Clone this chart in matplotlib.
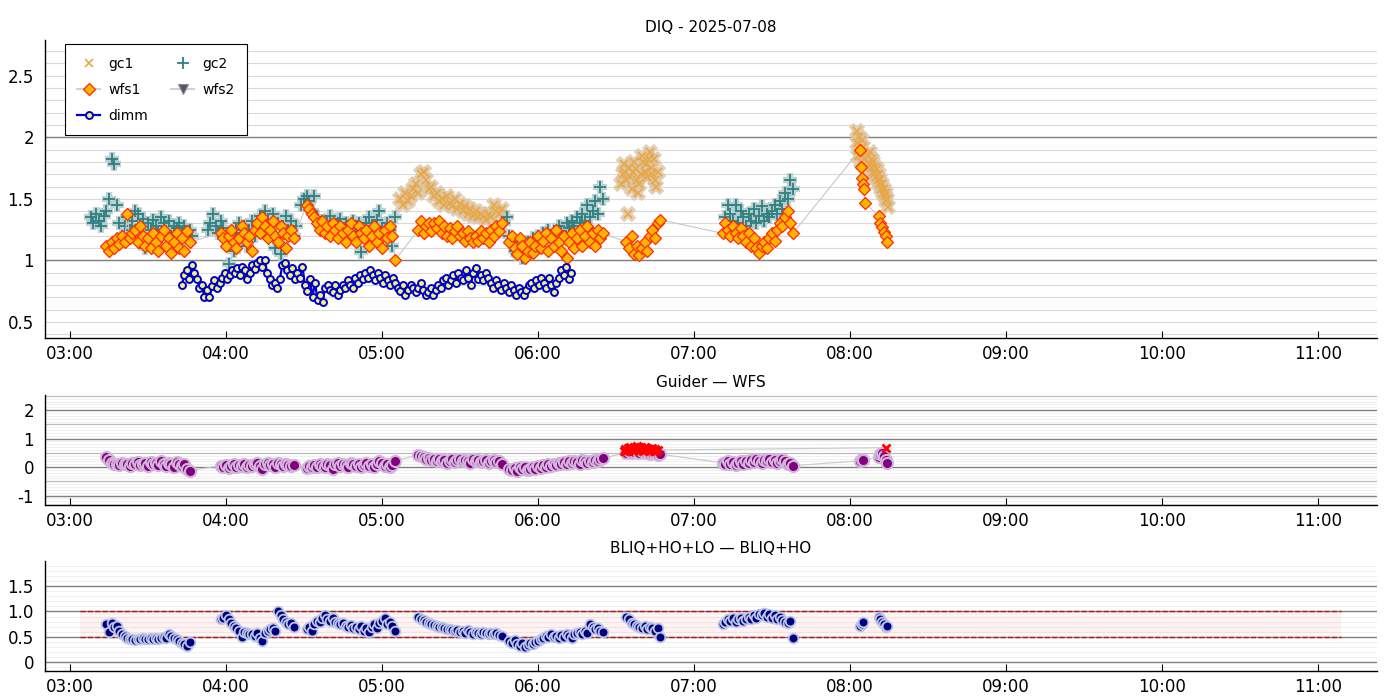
import numpy as np
import pandas as pd
import matplotlib
matplotlib.use('Agg')
import matplotlib.pyplot as plt
import matplotlib.dates as mdates
from matplotlib.ticker import FixedLocator, FixedFormatter

DAY = '2025-07-08 '

# ---- top panel: DIQ ----
gc1_a = [1.50, 1.45, 1.55, 1.48, 1.52, 1.58, 1.62, 1.55, 1.70, 1.72, 1.65, 1.58, 1.60, 1.52,
         1.55, 1.48, 1.50, 1.45, 1.52, 1.47, 1.44, 1.50, 1.42, 1.46, 1.40, 1.44, 1.38, 1.42,
         1.36, 1.40, 1.35, 1.38, 1.36, 1.33, 1.38, 1.35, 1.45, 1.40, 1.38, 1.42]
gc1_b = [1.62, 1.70, 1.78, 1.72, 1.65, 1.38, 1.75, 1.68, 1.58, 1.72, 1.80, 1.74, 1.65, 1.55,
         1.62, 1.70, 1.85, 1.80, 1.72, 1.78, 1.68, 1.82, 1.88, 1.75, 1.70, 1.82, 1.65, 1.60, 1.72]
gc1_c = [1.95, 2.05, 1.85, 2.00, 1.90, 1.80, 1.98, 1.85, 1.92, 1.78]
gc1_d = [1.85, 1.78, 1.88, 1.75, 1.82, 1.72, 1.80, 1.70, 1.76, 1.68, 1.74, 1.65, 1.70, 1.62,
         1.66, 1.58, 1.62, 1.55, 1.58, 1.52, 1.55, 1.48, 1.50, 1.43]

gc2_a = [1.35, 1.30, 1.38, 1.32, 1.28, 1.36, 1.40, 1.50, 1.82, 1.78, 1.45, 1.30, 1.20, 1.28,
         1.35, 1.25, 1.32, 1.40, 1.38, 1.28, 1.34, 1.10, 1.30, 1.25, 1.33, 1.28, 1.22, 1.35,
         1.30, 1.24, 1.32, 1.20, 1.28, 1.26, 1.30, 1.22, 1.28, 1.18, 1.25, 1.20]
gc2_b = [1.25, 1.30, 1.38, 1.28, 1.22, 1.32, 1.26, 1.20, 0.97, 1.15, 1.08, 1.25, 1.30, 1.22,
         1.28, 1.12, 1.25, 1.32, 1.20, 1.30, 1.36, 1.28, 1.40, 1.32, 1.25, 1.38, 1.10, 1.30,
         1.05, 1.28, 1.36, 1.25, 1.32, 1.20, 1.28]
gc2_c = [1.45, 1.50, 1.52, 1.48, 1.40, 1.52, 1.35, 1.28, 1.32, 1.25, 1.30, 1.36, 1.28, 1.22,
         1.30, 1.34, 1.25, 1.30, 1.28, 1.20, 1.32, 1.26, 1.30, 1.07, 1.24, 1.30, 1.35, 1.28,
         1.22, 1.33, 1.40, 1.26, 1.20, 1.30, 1.25, 1.12, 1.35]
gc2_d = [1.30, 1.35, 1.20, 1.15, 1.08, 1.05, 1.12, 1.02, 1.10, 1.15, 1.08, 1.18, 1.12, 1.20,
         1.15, 1.22, 1.18, 1.25, 1.20, 1.15, 1.22, 1.28, 1.24, 1.20, 1.30, 1.26, 1.32, 1.28,
         1.35, 1.30, 1.38, 1.32, 1.45, 1.35, 1.40, 1.48, 1.38, 1.60, 1.50]
gc2_e = [1.35, 1.45, 1.38, 1.32, 1.45, 1.30, 1.40, 1.35, 1.28, 1.38, 1.32, 1.42, 1.30, 1.36,
         1.44, 1.32, 1.38, 1.35, 1.40, 1.45, 1.38, 1.48, 1.42, 1.55, 1.50, 1.65, 1.58]

wfs1_a = [1.12, 1.08, 1.15, 1.10, 1.18, 1.13, 1.20, 1.15, 1.38, 1.18, 1.22, 1.25, 1.15, 1.28,
          1.20, 1.12, 1.18, 1.10, 1.22, 1.15, 1.08, 1.20, 1.25, 1.12, 1.18, 1.06, 1.15, 1.22,
          1.10, 1.18, 1.08, 1.24, 1.15]
wfs1_b = [1.22, 1.18, 1.12, 1.20, 1.25, 1.15, 1.10, 1.18, 1.28, 1.22, 1.15, 1.20, 1.08, 1.25,
          1.30, 1.22, 1.35, 1.28, 1.18, 1.25, 1.32, 1.20, 1.15, 1.28, 1.22, 1.10, 1.20, 1.25, 1.18]
wfs1_c = [1.45, 1.42, 1.38, 1.35, 1.30, 1.25, 1.32, 1.22, 1.28, 1.20, 1.30, 1.25, 1.18, 1.28,
          1.22, 1.15, 1.25, 1.30, 1.20, 1.15, 1.28, 1.22, 1.18, 1.25, 1.12, 1.20, 1.28, 1.15,
          1.22, 1.10, 1.25, 1.18, 1.28, 1.20, 1.00]
wfs1_d = [1.25, 1.32, 1.22, 1.28, 1.30, 1.24, 1.30, 1.26, 1.32, 1.22, 1.28, 1.20, 1.26, 1.18,
          1.24, 1.28, 1.20, 1.22, 1.16, 1.24, 1.18, 1.15, 1.20, 1.16, 1.24, 1.18, 1.22, 1.15,
          1.25, 1.20, 1.28, 1.24, 1.30]
wfs1_e = [1.15, 1.20, 1.10, 1.05, 1.18, 1.12, 1.02, 1.08, 1.15, 1.06, 1.12, 1.20, 1.10, 1.16,
          1.22, 1.08, 1.18, 1.12, 1.25, 1.15, 1.08, 1.20, 1.02, 1.15, 1.22, 1.10, 1.18, 1.25,
          1.12, 1.20, 1.28, 1.15, 1.22, 1.12, 1.25, 1.18, 1.22]
wfs1_f = [1.15, 1.10, 1.20, 1.05, 1.12, 1.04, 1.10, 1.15, 1.08, 1.20, 1.25, 1.18, 1.30, 1.33]
wfs1_g = [1.22, 1.30, 1.25, 1.20, 1.28, 1.22, 1.18, 1.26, 1.20, 1.15, 1.22, 1.12, 1.18, 1.10,
          1.06, 1.12, 1.15, 1.10, 1.18, 1.22, 1.16, 1.25, 1.30, 1.28, 1.35, 1.40, 1.30, 1.22]
wfs1_h = [1.90, 1.76, 1.67, 1.62, 1.58, 1.47]
wfs1_i = [1.36, 1.30, 1.27, 1.23, 1.20, 1.15]

dimm = [0.80, 0.88, 0.92, 0.85, 0.96, 0.90, 0.85, 0.78, 0.80, 0.70, 0.76, 0.70, 0.79, 0.84,
        0.78, 0.82, 0.86, 0.90, 0.85, 0.88, 0.92, 0.90, 0.94, 0.88, 0.95, 0.92, 0.85, 0.90,
        0.96, 0.93, 0.98, 1.00, 0.95, 1.00, 0.90, 0.85, 0.80, 0.82, 0.78, 0.85, 0.96, 0.98,
        0.92, 0.88, 0.94, 0.85, 0.90, 0.86, 0.95, 0.80, 0.75, 0.85, 0.70, 0.82, 0.68, 0.72,
        0.66, 0.78, 0.80, 0.76, 0.74, 0.80, 0.72, 0.76, 0.80, 0.78, 0.84, 0.80, 0.78, 0.86,
        0.82, 0.88, 0.85, 0.90, 0.86, 0.92, 0.88, 0.84, 0.90, 0.86, 0.82, 0.88, 0.84, 0.80,
        0.86, 0.82, 0.78, 0.75, 0.80, 0.72, 0.76, 0.80, 0.78, 0.74, 0.78, 0.82, 0.76, 0.72,
        0.74, 0.78, 0.72, 0.76, 0.80, 0.78, 0.84, 0.86, 0.80, 0.84, 0.88, 0.82, 0.90, 0.86,
        0.84, 0.92, 0.86, 0.80, 0.90, 0.94, 0.85, 0.88, 0.84, 0.90, 0.86, 0.82, 0.78, 0.84,
        0.80, 0.76, 0.82, 0.78, 0.74, 0.80, 0.76, 0.72, 0.78, 0.74, 0.72, 0.76, 0.80, 0.82,
        0.78, 0.84, 0.80, 0.86, 0.82, 0.78, 0.86, 0.80, 0.74, 0.82, 0.86, 0.92, 0.88, 0.95,
        0.85, 0.90]

# ---- middle panel: Guider - WFS ----
gw_a = [0.35, 0.25, 0.15, 0.10, 0.12, 0.08, 0.15, 0.10, 0.12, 0.05, 0.15, 0.10, 0.18, 0.08,
        0.12, 0.15, 0.05, 0.18, 0.10, 0.15, 0.08, 0.20, 0.12, 0.05, 0.15, 0.10, 0.02, 0.18,
        0.12, 0.05, 0.10, -0.05, -0.12]
gw_b = [0.05, 0.00, 0.08, -0.02, 0.05, 0.10, 0.02, 0.08, 0.05, 0.12, 0.00, 0.08, 0.05, 0.12,
        0.15, 0.05, -0.05, 0.10, 0.15, 0.08, 0.12, 0.02, 0.15, 0.10, 0.05, 0.12, 0.08, 0.05, 0.06]
gw_c = [-0.02, 0.05, 0.00, 0.08, 0.02, 0.10, 0.05, 0.00, 0.12, 0.08, -0.05, 0.10, 0.15, 0.05,
        0.12, 0.08, 0.02, 0.15, 0.10, 0.05, 0.12, 0.00, 0.08, 0.15, 0.05, 0.10, 0.02, 0.12,
        0.20, 0.15, 0.05, 0.10, 0.00, 0.08, 0.22]
gw_d = [0.42, 0.38, 0.35, 0.30, 0.32, 0.25, 0.28, 0.22, 0.30, 0.20, 0.25, 0.15, 0.22, 0.28,
        0.18, 0.25, 0.30, 0.20, 0.25, 0.22, 0.15, 0.28, 0.20, 0.25, 0.18, 0.22, 0.26, 0.15,
        0.20, 0.25, 0.18, 0.22, 0.12]
gw_e = [-0.05, -0.10, -0.02, -0.12, 0.00, -0.08, 0.02, -0.10, -0.05, 0.00, -0.08, 0.05, -0.02,
        0.08, 0.02, 0.10, 0.05, 0.12, 0.08, 0.15, 0.10, 0.18, 0.12, 0.20, 0.15, 0.22, 0.18,
        0.12, 0.25, 0.20, 0.15, 0.22, 0.18, 0.25, 0.20, 0.28, 0.32]
gw_f = [0.50, 0.55, 0.48, 0.52, 0.60, 0.50, 0.55, 0.48, 0.52, 0.45, 0.50, 0.48, 0.42, 0.45]
gw_g = [0.15, 0.10, 0.20, 0.12, 0.18, 0.08, 0.15, 0.22, 0.12, 0.20, 0.15, 0.25, 0.18, 0.28,
        0.22, 0.15, 0.25, 0.20, 0.30, 0.18, 0.25, 0.15, 0.22, 0.28, 0.20, 0.12, 0.15, 0.05]
gw_h = [0.22, 0.28, 0.25]
gw_i = [0.35, 0.45, 0.50, 0.40, 0.25, 0.15]
gw_red_a = [0.55, 0.62, 0.58, 0.68, 0.60, 0.72, 0.65, 0.58, 0.70, 0.62, 0.75, 0.66, 0.60, 0.72,
            0.64, 0.58, 0.70, 0.62, 0.68, 0.56, 0.64, 0.60, 0.66, 0.55, 0.62, 0.58, 0.60]
gw_red_b = [0.68]

# ---- bottom panel: BLIQ+HO+LO - BLIQ+HO ----
bl_a = [0.75, 0.60, 0.78, 0.70, 0.72, 0.62, 0.55, 0.52, 0.48, 0.46, 0.45, 0.44, 0.46, 0.45,
        0.47, 0.45, 0.46, 0.48, 0.46, 0.47, 0.45, 0.48, 0.50, 0.47, 0.55, 0.52, 0.48, 0.45,
        0.42, 0.38, 0.35, 0.32, 0.40]
bl_b = [0.85, 0.88, 0.92, 0.85, 0.78, 0.72, 0.68, 0.62, 0.50, 0.60, 0.58, 0.55, 0.56, 0.52,
        0.58, 0.48, 0.42, 0.58, 0.62, 0.66, 0.68, 0.62, 1.00, 0.92, 0.86, 0.80, 0.75, 0.78, 0.70]
bl_c = [0.65, 0.70, 0.62, 0.75, 0.82, 0.80, 0.88, 0.92, 0.85, 0.82, 0.88, 0.80, 0.78, 0.75,
        0.78, 0.72, 0.70, 0.74, 0.68, 0.70, 0.65, 0.72, 0.62, 0.68, 0.60, 0.70, 0.75, 0.68,
        0.78, 0.82, 0.88, 0.75, 0.80, 0.72, 0.62]
bl_d = [0.90, 0.86, 0.84, 0.80, 0.78, 0.76, 0.74, 0.72, 0.70, 0.70, 0.68, 0.66, 0.65, 0.64,
        0.62, 0.64, 0.60, 0.62, 0.58, 0.64, 0.60, 0.56, 0.60, 0.58, 0.55, 0.60, 0.57, 0.56,
        0.58, 0.55, 0.57, 0.54, 0.52]
bl_e = [0.42, 0.38, 0.44, 0.35, 0.32, 0.38, 0.30, 0.34, 0.38, 0.36, 0.40, 0.42, 0.45, 0.48,
        0.52, 0.50, 0.55, 0.50, 0.52, 0.48, 0.54, 0.50, 0.56, 0.52, 0.47, 0.55, 0.58, 0.60,
        0.55, 0.62, 0.58, 0.75, 0.70, 0.65, 0.68, 0.62, 0.60]
bl_f = [0.90, 0.85, 0.78, 0.75, 0.72, 0.70, 0.68, 0.72, 0.65, 0.70, 0.68, 0.62, 0.68, 0.50]
bl_g = [0.75, 0.80, 0.85, 0.82, 0.88, 0.80, 0.85, 0.88, 0.82, 0.86, 0.90, 0.85, 0.92, 0.88,
        0.95, 0.92, 0.96, 0.90, 0.94, 0.88, 0.92, 0.86, 0.90, 0.84, 0.80, 0.78, 0.82, 0.48]
bl_h = [0.72, 0.76, 0.80]
bl_i = [0.90, 0.85, 0.80, 0.75, 0.70, 0.72]

band_lo, band_hi = 0.5, 1.0
band_start, band_end = '03:04', '11:09'


def series(segs):
    # segs: list of (start 'HH:MM', values, sample step)
    t, v = [], []
    for start, vals, step in segs:
        t.extend(pd.date_range(DAY + start, periods=len(vals), freq=step))
        v.extend(vals)
    return pd.to_datetime(t), np.array(v)


t_gc1, v_gc1 = series([('05:07', gc1_a, '60s'), ('06:32', gc1_b, '30s'),
                       ('08:02:30', gc1_c, '20s'), ('08:07', gc1_d, '20s')])
t_gc2, v_gc2 = series([('03:08', gc2_a, '60s'), ('03:53', gc2_b, '60s'), ('04:29', gc2_c, '60s'),
                       ('05:47', gc2_d, '60s'), ('07:12', gc2_e, '60s')])
t_wfs1, v_wfs1 = series([('03:14', wfs1_a, '60s'), ('03:58', wfs1_b, '60s'), ('04:31', wfs1_c, '60s'),
                         ('05:14', wfs1_d, '60s'), ('05:49', wfs1_e, '60s'), ('06:34', wfs1_f, '60s'),
                         ('07:11', wfs1_g, '60s'), ('08:04', wfs1_h, '20s'), ('08:11', wfs1_i, '40s')])
t_dimm, v_dimm = series([('03:43', dimm, '58s')])
t_gw, v_gw = series([('03:14', gw_a, '60s'), ('03:58', gw_b, '60s'), ('04:31', gw_c, '60s'),
                     ('05:14', gw_d, '60s'), ('05:49', gw_e, '60s'), ('06:34', gw_f, '60s'),
                     ('07:11', gw_g, '60s'), ('08:04', gw_h, '30s'), ('08:11', gw_i, '40s')])
t_gwr, v_gwr = series([('06:33', gw_red_a, '30s'), ('08:14', gw_red_b, '30s')])
t_bl, v_bl = series([('03:14', bl_a, '60s'), ('03:58', bl_b, '60s'), ('04:31', bl_c, '60s'),
                     ('05:14', bl_d, '60s'), ('05:49', bl_e, '60s'), ('06:34', bl_f, '60s'),
                     ('07:11', bl_g, '60s'), ('08:04', bl_h, '30s'), ('08:11', bl_i, '40s')])

fig = plt.figure(figsize=(14, 7), dpi=100)
W, H = 1400.0, 700.0
ax1 = fig.add_axes([45 / W, 1 - 338 / H, 1332 / W, 298 / H])
ax2 = fig.add_axes([45 / W, 1 - 505 / H, 1332 / W, 110 / H], sharex=ax1)
ax3 = fig.add_axes([45 / W, 1 - 671 / H, 1332 / W, 110 / H], sharex=ax1)

DARK = '#808080'

# --- DIQ ---
for y in np.arange(0.4, 2.75, 0.1):
    ax1.axhline(y, color='#d9d9d9', lw=0.8, zorder=0)
for y in [1, 2]:
    ax1.axhline(y, color=DARK, lw=1.0, zorder=0)

ax1.plot(t_gc1, v_gc1, 'x', ms=8, mew=4.5, color='#dcc4a4', alpha=0.8, zorder=2)
ax1.plot(t_gc1, v_gc1, 'x', ms=6, mew=1.2, color='#e8a848', zorder=2.1, label='gc1')
ax1.plot(t_gc2, v_gc2, '+', ms=10, mew=4.5, color='#afc8ca', alpha=0.8, zorder=2)
ax1.plot(t_gc2, v_gc2, '+', ms=8, mew=1.3, color='#2f8080', zorder=2.1, label='gc2')
ax1.plot(t_wfs1, v_wfs1, '-', color='#c8c8c8', lw=0.8, zorder=2.5)
ax1.plot(t_wfs1, v_wfs1, 'D', ls='none', ms=6, mfc='#ffb400', mec='#ff2a00', mew=0.9, zorder=3)
ax1.plot(t_dimm, v_dimm, '-o', color='#0000cc', lw=1.6, ms=5, mfc='#f2f27a', mec='#0000cc',
         mew=1.4, zorder=4, label='dimm')

h_wfs1 = ax1.plot([], [], '-D', color='#d0d0d0', lw=1.5, ms=6, mfc='#ffb400', mec='#ff2a00',
                  mew=0.9, label='wfs1')[0]
h_wfs2 = ax1.plot([], [], '-v', color='#d0d0d0', lw=1.5, ms=7, mfc='#555566', mec='#888899',
                  mew=0.8, label='wfs2')[0]
hd, ld = ax1.get_legend_handles_labels()
lookup = dict(zip(ld, hd))
order = ['gc1', 'wfs1', 'dimm', 'gc2', 'wfs2']
leg = ax1.legend([lookup[k] for k in order], order, ncol=2, loc='upper left',
                 bbox_to_anchor=(0.015, 0.985), borderaxespad=0, fontsize=10, frameon=True,
                 fancybox=False, framealpha=1, edgecolor='black', borderpad=0.9,
                 labelspacing=0.85, columnspacing=1.7, handlelength=1.6, handletextpad=0.6)
leg.get_frame().set_linewidth(0.8)

ax1.set_ylim(0.37, 2.79)
ax1.yaxis.set_major_locator(FixedLocator([0.5, 1, 1.5, 2, 2.5]))
ax1.yaxis.set_major_formatter(FixedFormatter(['0.5', '1', '1.5', '2', '2.5']))
ax1.set_title('DIQ - 2025-07-08', fontsize=11, pad=6)

# --- Guider - WFS ---
for y in np.arange(-1.3, 2.55, 0.1):
    ax2.axhline(y, color='#eeeeee', lw=0.6, zorder=0)
for y in [-0.5, 0.5, 1.5, 2.5]:
    ax2.axhline(y, color='#bdbdbd', lw=0.9, zorder=0)
for y in [-1, 0, 1, 2]:
    ax2.axhline(y, color=DARK, lw=1.0, zorder=0)
ax2.plot(t_gw, v_gw, '-', color='#c8c8c8', lw=0.8, zorder=1)
ax2.plot(t_gwr, v_gwr, '-', color='#c8c8c8', lw=0.8, zorder=1)
ax2.plot(t_gw, v_gw, 'o', ms=8, mfc='#800080', mec='#d2b4da', mew=1.5, zorder=2)
ax2.plot(t_gwr, v_gwr, 'x', ms=6, mew=2, color='#ff0000', zorder=3)
ax2.set_ylim(-1.33, 2.53)
ax2.yaxis.set_major_locator(FixedLocator([-1, 0, 1, 2]))
ax2.yaxis.set_major_formatter(FixedFormatter(['-1', '0', '1', '2']))
ax2.set_title('Guider \u2014 WFS', fontsize=11, pad=6)

# --- BLIQ ---
for y in np.arange(-0.1, 2.0, 0.1):
    ax3.axhline(y, color='#ececec', lw=0.6, zorder=0)
for y in [0, 0.5, 1.0, 1.5]:
    ax3.axhline(y, color=DARK, lw=1.0, zorder=0)
tb = pd.to_datetime([DAY + band_start, DAY + band_end])
ax3.fill_between(tb, band_lo, band_hi, color='#ff0000', alpha=0.05, lw=0, zorder=0.5)
ax3.hlines([band_lo, band_hi], tb[0], tb[1], colors='#b01818', linestyles='--', lw=1.0, zorder=1)
ax3.plot(t_bl, v_bl, 'o', ms=7, mfc='#000080', mec='#bcc6e6', mew=1.3, zorder=2)
ax3.set_ylim(-0.18, 2.0)
ax3.yaxis.set_major_locator(FixedLocator([0, 0.5, 1.0, 1.5]))
ax3.yaxis.set_major_formatter(FixedFormatter(['0', '0.5', '1.0', '1.5']))
ax3.set_title('BLIQ+HO+LO \u2014 BLIQ+HO', fontsize=11, pad=6)

for ax in (ax1, ax2, ax3):
    ax.spines['top'].set_visible(False)
    ax.spines['right'].set_visible(False)
    ax.spines['left'].set_linewidth(1.0)
    ax.spines['bottom'].set_linewidth(1.0)
    ax.xaxis.set_major_locator(mdates.HourLocator())
    ax.xaxis.set_major_formatter(mdates.DateFormatter('%H:%M'))
    ax.tick_params(axis='x', direction='in', length=5, labelsize=12, pad=5, labelbottom=True)
    ax.tick_params(axis='y', length=0, labelsize=12, pad=8)

ax1.set_xlim(pd.Timestamp(DAY + '02:50:23'), pd.Timestamp(DAY + '11:22:41'))

fig.savefig('out.png', dpi=100)
